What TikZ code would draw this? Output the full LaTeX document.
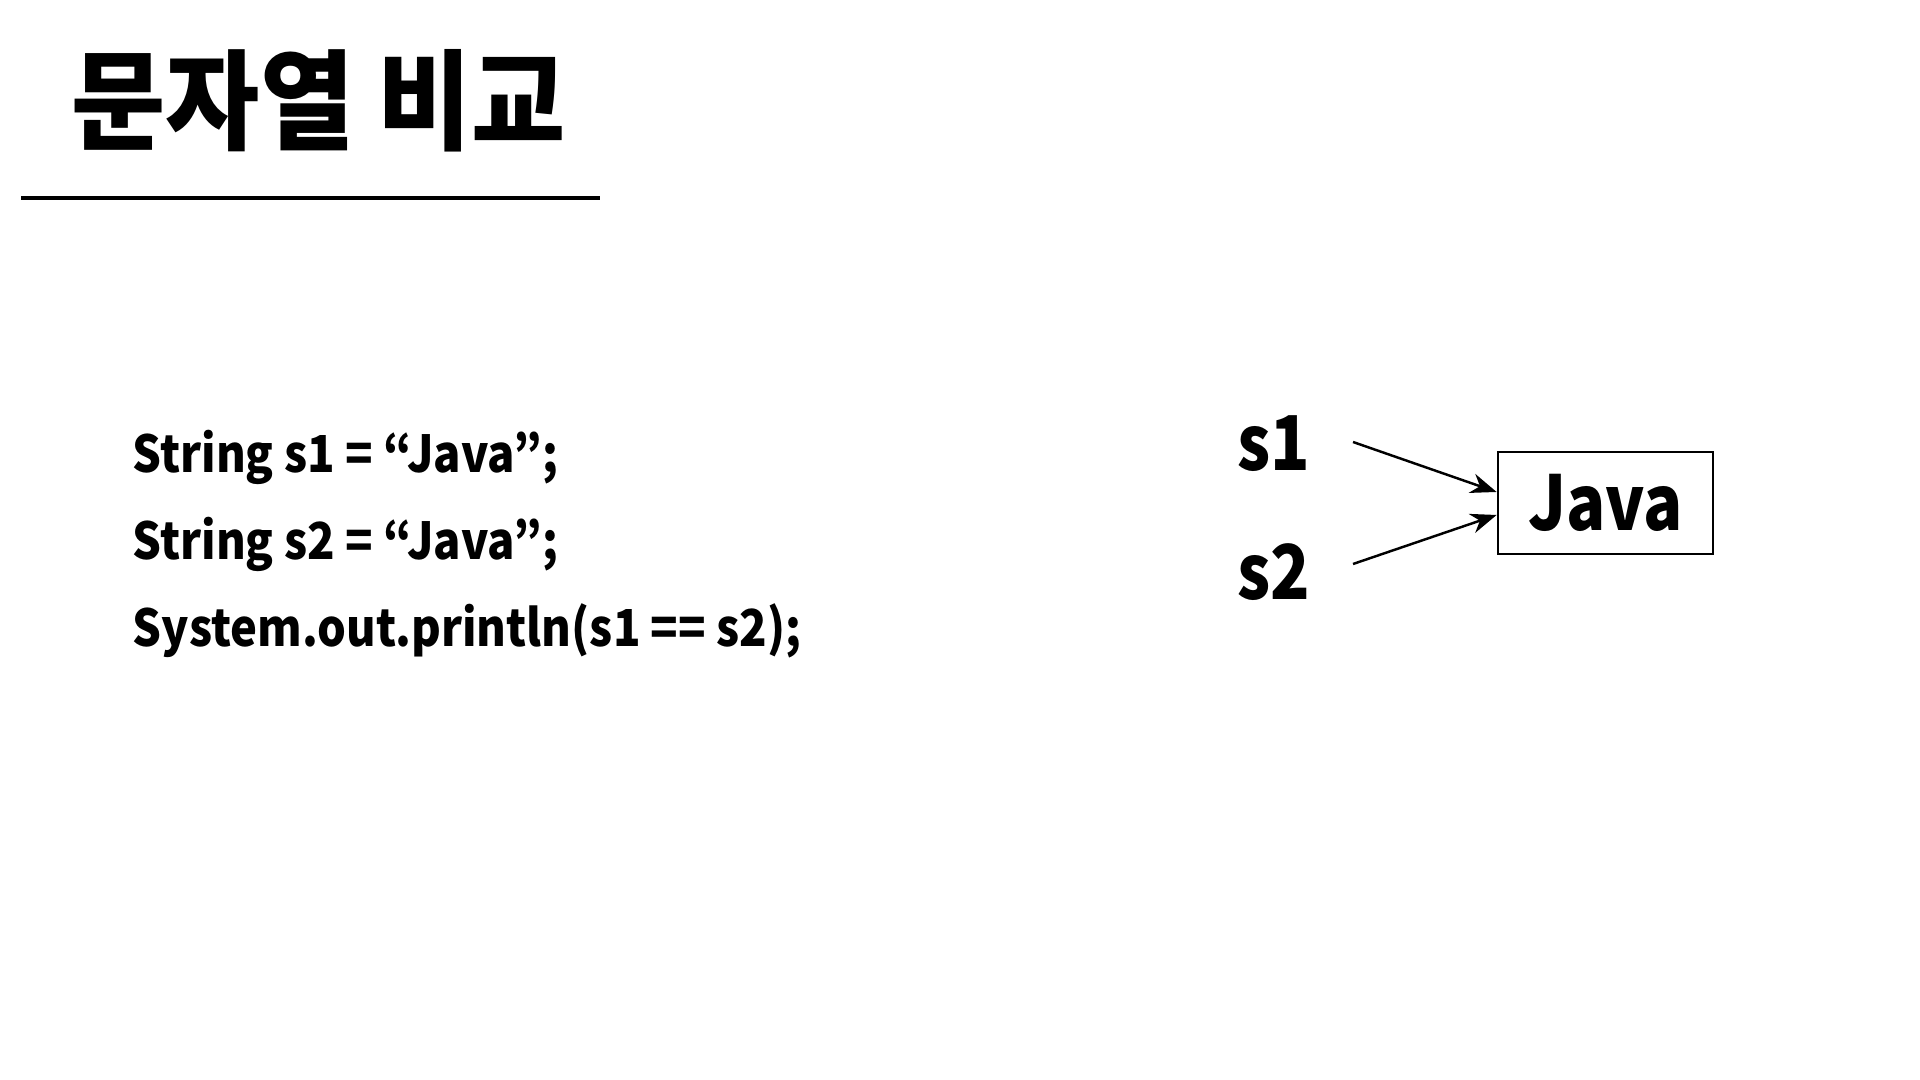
\documentclass[tikz,border=0pt]{standalone}
\usepackage{fontspec}
\setmainfont{Noto Sans CJK KR}
\newfontfamily\titlefont{Noto Sans CJK KR}[FakeStretch=0.94]
\newfontfamily\codefont{Noto Sans CJK KR}[FakeStretch=0.89]
\newfontfamily\varfont{Noto Sans CJK KR}[FakeStretch=0.86]
\usetikzlibrary{arrows.meta}

\tikzset{
  code/.style={anchor=base west, inner sep=0pt, font=\codefont\bfseries\fontsize{14.5}{18}\selectfont},
  var/.style={anchor=base west, inner sep=0pt, font=\varfont\bfseries\fontsize{21.5}{26}\selectfont},
  strbox/.style={draw, line width=0.8pt, minimum width=2.15cm, minimum height=1.02cm, inner sep=0pt, font=\varfont\bfseries\fontsize{21.5}{26}\selectfont},
  ref/.style={line width=0.7pt, -{Stealth[length=2.6mm, width=2mm]}}
}

\begin{document}
\begin{tikzpicture}
 \useasboundingbox (0, 0) rectangle (19.2, 10.8);

 % title
 \node[anchor=west, inner sep=0pt, font=\titlefont\bfseries\fontsize{31}{38}\selectfont] (title) at (0.71, 9.79) {문자열 비교};
 \draw[line width=1.2pt] (0.21, 8.82) -- (6.00, 8.82);

 % code
 \node[code] (l1) at (1.32, 6.07) {String s1 = “Java”;};
 \node[code] (l2) at (1.32, 5.20) {String s2 = “Java”;};
 \node[code] (l3) at (1.32, 4.33) {System.out.println(s1 == s2);};

 % references
 \node[var] (s1) at (12.37, 6.09) {s1};
 \node[var] (s2) at (12.37, 4.80) {s2};
 \node[strbox] (str) at (16.055, 5.77) {Java};

 \coordinate (s1out) at (13.53, 6.38);
 \coordinate (s2out) at (13.53, 5.16);
 \draw[ref] (s1out) -- ([yshift=1.1mm]str.west);
 \draw[ref] (s2out) -- ([yshift=-1.2mm]str.west);
\end{tikzpicture}
\end{document}
